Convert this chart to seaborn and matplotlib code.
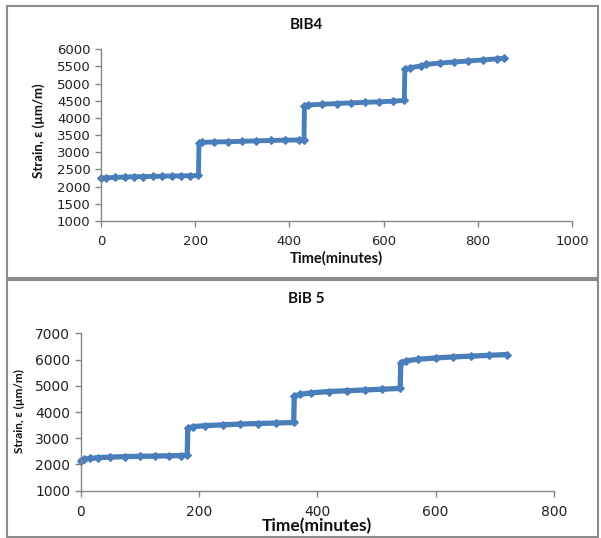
import matplotlib
matplotlib.use("Agg")
import matplotlib.pyplot as plt
import seaborn as sns
import pandas as pd
from matplotlib.patches import Rectangle

# BIB4 data
bib4_time = [0, 10, 30, 50, 70, 90, 110, 130, 150, 170, 190, 207,
             208, 215, 240, 270, 300, 330, 360, 390, 420, 431,
             432, 440, 470, 500, 530, 560, 590, 620, 644,
             645, 655, 680, 690, 720, 750, 780, 810, 840, 855]
bib4_strain = [2240, 2255, 2270, 2280, 2290, 2295, 2300, 2305, 2310, 2315, 2320, 2325,
               3270, 3290, 3300, 3310, 3320, 3335, 3345, 3355, 3360, 3365,
               4350, 4380, 4400, 4420, 4440, 4455, 4470, 4490, 4510,
               5430, 5460, 5520, 5560, 5600, 5630, 5660, 5690, 5720, 5740]

# BiB 5 data
bib5_time = [0, 5, 15, 30, 50, 75, 100, 125, 150, 170, 180,
             181, 190, 210, 240, 270, 300, 330, 360,
             361, 370, 390, 420, 450, 480, 510, 540,
             541, 550, 570, 600, 630, 660, 690, 720]
bib5_strain = [2150, 2190, 2230, 2260, 2280, 2300, 2310, 2320, 2330, 2340, 2350,
               3380, 3440, 3480, 3510, 3540, 3560, 3580, 3600,
               4600, 4670, 4730, 4780, 4810, 4840, 4870, 4900,
               5880, 5950, 6010, 6060, 6100, 6130, 6160, 6190]

top_yticks = list(range(1000, 6001, 500))
top_xticks = list(range(0, 1001, 200))
bot_yticks = list(range(1000, 7001, 1000))
bot_xticks = list(range(0, 801, 200))

sns.set_style("white")
plt.rcParams['font.family'] = ['DejaVu Sans']

W, H = 601, 538
fig = plt.figure(figsize=(W / 100, H / 100), dpi=100)

# panel borders
for (x0, y0, x1, y1) in [(6.7, 5.7, 597.7, 278), (6.7, 280, 597.7, 536.5)]:
    fig.patches.append(Rectangle((x0 / W, 1 - y1 / H), (x1 - x0) / W, (y1 - y0) / H,
                                 transform=fig.transFigure, fill=False,
                                 edgecolor='#8c8c8c', linewidth=1.5))

color = '#4A7EBB'
spine_c = '#868686'
lab_font = ['Lato', 'DejaVu Sans']


def setup(ax, xt, yt, tick_fs):
    ax.set_xlim(xt[0], xt[-1])
    ax.set_ylim(yt[0], yt[-1])
    ax.set_xticks(xt)
    ax.set_yticks(yt)
    for s in ['top', 'right']:
        ax.spines[s].set_visible(False)
    for s in ['left', 'bottom']:
        ax.spines[s].set_color(spine_c)
        ax.spines[s].set_linewidth(1.0)
    ax.tick_params(axis='both', direction='out', length=4, width=1, color=spine_c,
                   labelsize=tick_fs, labelcolor='#222222', left=True, bottom=True)
    ax.tick_params(axis='x', pad=6)
    ax.grid(False)
    ax.set_xlabel('')
    ax.set_ylabel('')


# top axes
ax1 = fig.add_axes([101 / W, 1 - 221 / H, (572 - 101) / W, (221 - 49.3) / H])
df1 = pd.DataFrame({'t': bib4_time, 's': bib4_strain})
sns.lineplot(data=df1, x='t', y='s', ax=ax1, color=color, linewidth=3.5,
             marker='D', markersize=3.6, markeredgecolor=color, sort=False)
setup(ax1, top_xticks, top_yticks, 9.5)
for ln in ax1.lines:
    ln.set_clip_on(False)

# bottom axes
ax2 = fig.add_axes([80.7 / W, 1 - 490.7 / H, (554 - 80.7) / W, (490.7 - 333.3) / H])
df2 = pd.DataFrame({'t': bib5_time, 's': bib5_strain})
sns.lineplot(data=df2, x='t', y='s', ax=ax2, color=color, linewidth=3.8,
             marker='D', markersize=3.6, markeredgecolor=color, sort=False)
setup(ax2, bot_xticks, bot_yticks, 10)
for ln in ax2.lines:
    ln.set_clip_on(False)

# titles
fig.text(306 / W, 1 - 25 / H, 'BIB4', ha='center', va='center', fontsize=11,
         fontweight='bold', family=lab_font, color='#111111')
fig.text(306 / W, 1 - 299.3 / H, 'BiB 5', ha='center', va='center', fontsize=11,
         fontweight='bold', family=lab_font, color='#111111')

# x labels
fig.text(336.5 / W, 1 - 258 / H, 'Time(minutes)', ha='center', va='center', fontsize=10.5,
         fontweight='bold', family=lab_font, color='#111111')
fig.text(317 / W, 1 - 526 / H, 'Time(minutes)', ha='center', va='center', fontsize=12.5,
         fontweight='bold', family=lab_font, color='#111111')

# y labels
fig.text(39 / W, 1 - 131 / H, 'Strain, ε (µm/m)', ha='center', va='center', fontsize=9.5,
         fontweight='bold', family=lab_font, rotation=90, color='#111111')
fig.text(19 / W, 1 - 411 / H, 'Strain, ε (µm/m)', ha='center', va='center', fontsize=8.5,
         fontweight='bold', family=lab_font, rotation=90, color='#111111')

fig.savefig('out.png', dpi=100)
